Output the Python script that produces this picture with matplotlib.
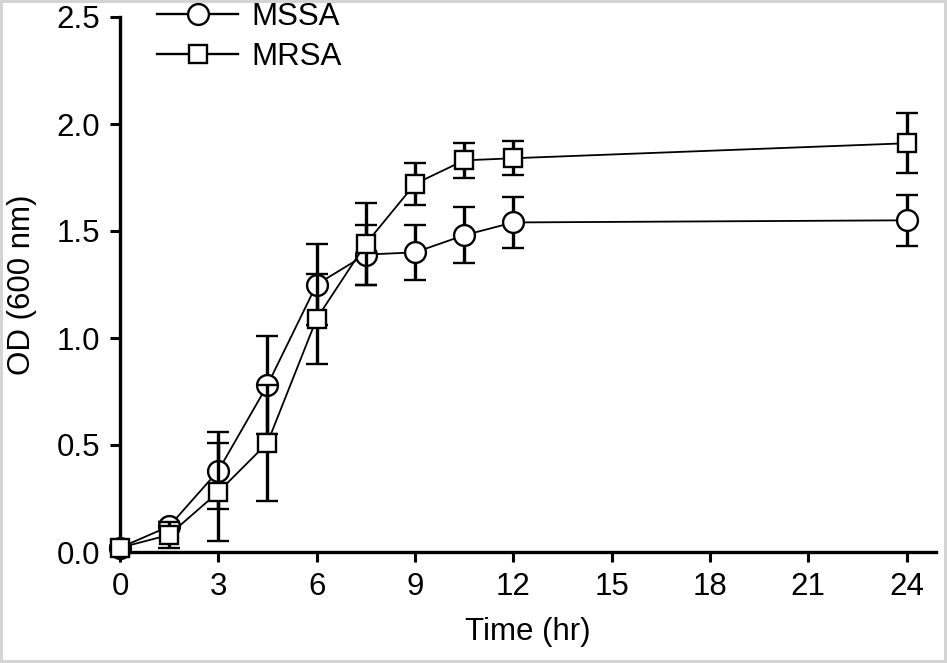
import matplotlib
matplotlib.use("Agg")
import matplotlib.pyplot as plt
from matplotlib.lines import Line2D

# data
time = [0, 1.5, 3, 4.5, 6, 7.5, 9, 10.5, 12, 24]
mssa = [0.02, 0.12, 0.38, 0.78, 1.25, 1.39, 1.40, 1.48, 1.54, 1.55]
mssa_err = [0.01, 0.02, 0.18, 0.23, 0.19, 0.14, 0.13, 0.13, 0.12, 0.12]
mrsa = [0.02, 0.08, 0.28, 0.51, 1.09, 1.44, 1.72, 1.83, 1.84, 1.91]
mrsa_err = [0.01, 0.06, 0.23, 0.27, 0.21, 0.19, 0.10, 0.08, 0.08, 0.14]
xticks = [0, 3, 6, 9, 12, 15, 18, 21, 24]
yticks = [0.0, 0.5, 1.0, 1.5, 2.0, 2.5]

plt.rcParams['font.family'] = ['Liberation Sans', 'DejaVu Sans']
fs = 22.5

fig = plt.figure(figsize=(9.47, 6.63), dpi=100)
fig.patch.set_edgecolor('#d4d4d4')
fig.patch.set_linewidth(3)
ax = fig.add_axes([120/947, 1-552/663, 816/947, 535/663])

style = dict(color='black', mfc='white', mec='black', mew=1.7, lw=1.3,
             ecolor='black', elinewidth=2.4, capsize=8, capthick=2.4, clip_on=False)
ax.errorbar(time, mssa, yerr=mssa_err, marker='o', ms=15, zorder=3, **style)
ax.errorbar(time, mrsa, yerr=mrsa_err, marker='s', ms=13, zorder=4, **style)

ax.set_xlim(0, 24.9)
ax.set_ylim(0, 2.5)
ax.set_xticks(xticks)
ax.set_yticks(yticks)
ax.set_yticklabels(['%.1f' % v for v in yticks])
ax.spines['top'].set_visible(False)
ax.spines['right'].set_visible(False)
for s in ['left', 'bottom']:
    ax.spines[s].set_linewidth(2.4)
ax.tick_params(direction='out', length=7.5, width=2.2, labelsize=fs, pad=7)
ax.set_xlabel('Time (hr)', fontsize=fs, labelpad=11)
ax.set_ylabel('OD (600 nm)', fontsize=fs, labelpad=14)

handles = [Line2D([], [], color='black', lw=1.7, marker='o', ms=15, mfc='white', mec='black', mew=1.7),
           Line2D([], [], color='black', lw=1.7, marker='s', ms=13, mfc='white', mec='black', mew=1.7)]
ax.legend(handles, ['MSSA', 'MRSA'], loc='upper left', bbox_to_anchor=(0.03, 1.051),
          frameon=False, fontsize=fs, handlelength=2.6, handletextpad=0.42,
          labelspacing=0.3, borderaxespad=0)

fig.savefig('out.png', dpi=100)
